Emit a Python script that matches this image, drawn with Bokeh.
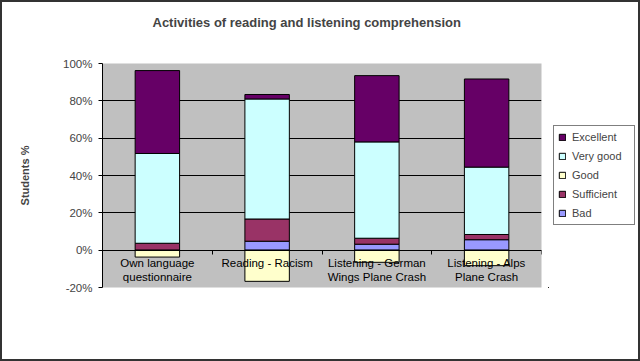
from bokeh.plotting import figure
from bokeh.layouts import row
from bokeh.models import ColumnDataSource, FixedTicker, Legend, LegendItem, Title
from bokeh.core.properties import value
from bokeh.embed import file_html
from bokeh.resources import INLINE

# ---- data (percent of students) ----
categories = ["Own language\nquestionnaire", "Reading - Racism",
              "Listening - German\nWings Plane Crash", "Listening - Alps\nPlane Crash"]
bad = [0.0, 4.8, 3.2, 5.6]
sufficient = [3.7, 11.9, 3.2, 2.8]
very_good = [48.1, 64.3, 51.6, 36.1]
excellent = [44.4, 2.4, 35.5, 47.2]
good = [3.7, 16.7, 6.5, 8.3]          # drawn below the zero line
y_ticks = [-20, 0, 20, 40, 60, 80, 100]
y_tick_labels = ["-20%", "0%", "20%", "40%", "60%", "80%", "100%"]
series_names = ["Excellent", "Very good", "Good", "Sufficient", "Bad"]
colors = {"Excellent": "#660066", "Very good": "#CCFFFF", "Good": "#FFFFCC",
          "Sufficient": "#993366", "Bad": "#9999FF"}
TITLE = "Activities of reading and listening comprehension"

n = len(categories)
xs = [i + 0.5 for i in range(n)]
c1 = [bad[i] for i in range(n)]
c2 = [c1[i] + sufficient[i] for i in range(n)]
c3 = [c2[i] + very_good[i] for i in range(n)]
c4 = [c3[i] + excellent[i] for i in range(n)]
src = ColumnDataSource(dict(
    x=xs, zero=[0.0] * n,
    c1=c1, c2=c2, c3=c3, c4=c4,
    gneg=[-g for g in good],
    label=categories,
))

FONT = "Liberation Sans"

p = figure(width=546, height=357, x_range=(0, 4), y_range=(-20, 100),
           output_backend="svg", toolbar_location=None,
           min_border_left=100, min_border_right=7, min_border_top=61, min_border_bottom=72,
           background_fill_color="#C0C0C0", border_fill_color="white",
           outline_line_color=None)

# spacer title (closest to the frame) then the real title above it
p.add_layout(Title(text=" ", text_font_size="2px", standoff=30), "above")
p.add_layout(Title(text=TITLE, text_font=FONT, text_font_size="13px",
                   text_font_style="bold", align="left", offset=50, standoff=0),
             "above")

w = 0.405


def bars(fig, w):
    r_bad = fig.vbar(x="x", bottom="zero", top="c1", width=w, source=src,
                     fill_color=colors["Bad"], line_color="black", line_width=1)
    r_suf = fig.vbar(x="x", bottom="c1", top="c2", width=w, source=src,
                     fill_color=colors["Sufficient"], line_color="black", line_width=1)
    r_vg = fig.vbar(x="x", bottom="c2", top="c3", width=w, source=src,
                    fill_color=colors["Very good"], line_color="black", line_width=1)
    r_exc = fig.vbar(x="x", bottom="c3", top="c4", width=w, source=src,
                     fill_color=colors["Excellent"], line_color="black", line_width=1)
    r_good = fig.vbar(x="x", bottom="gneg", top="zero", width=w, source=src,
                      fill_color=colors["Good"], line_color="black", line_width=1)
    return {"Excellent": r_exc, "Very good": r_vg, "Good": r_good,
            "Sufficient": r_suf, "Bad": r_bad}


bars(p, w)

# category labels just under the zero line
p.text(x="x", y="zero", text="label", source=src, text_align="center",
       text_baseline="top", y_offset=7, text_font=value(FONT),
       text_font_size="11.5px", text_color="black", text_line_height=1.15)

# axes
p.yaxis.ticker = FixedTicker(ticks=y_ticks)
p.yaxis.major_label_overrides = {t: l for t, l in zip(y_ticks, y_tick_labels)}
p.yaxis.major_label_text_font = FONT
p.yaxis.major_label_text_font_size = "11.5px"
p.yaxis.major_tick_out = 4
p.yaxis.major_tick_in = 0
p.yaxis.minor_tick_line_color = None
p.yaxis.major_label_standoff = 6
p.yaxis.axis_line_color = "black"
p.yaxis.axis_label = "Students %"
p.yaxis.axis_label_text_font = FONT
p.yaxis.axis_label_text_font_size = "11px"
p.yaxis.axis_label_text_font_style = "bold"
p.yaxis.axis_label_standoff = 29

p.xaxis.fixed_location = 0
p.xaxis.ticker = FixedTicker(ticks=[0, 1, 2, 3, 4])
p.xaxis.major_label_overrides = {t: " " for t in [0, 1, 2, 3, 4]}
p.xaxis.major_tick_out = 4
p.xaxis.major_tick_in = 0
p.xaxis.minor_tick_line_color = None
p.xaxis.axis_line_color = "black"

p.xgrid.grid_line_color = None
p.ygrid.ticker = FixedTicker(ticks=[0, 20, 40, 60, 80])
p.ygrid.grid_line_color = "black"
p.ygrid.grid_line_width = 1

# ---- legend panel: a second figure to the right ----
lg = figure(width=90, height=357, x_range=(100, 101), y_range=(100, 101),
            output_backend="svg", toolbar_location=None,
            x_axis_location=None, y_axis_location=None,
            min_border_left=0, min_border_right=0, min_border_top=0, min_border_bottom=0,
            background_fill_color="white", border_fill_color="white",
            outline_line_color=None)
lg.grid.visible = False
lr = bars(lg, w)
legend = Legend(items=[LegendItem(label=s, renderers=[lr[s]]) for s in series_names],
                location=(5, 62), margin=0, padding=4, spacing=5,
                glyph_width=8, glyph_height=8, label_standoff=6,
                label_width=58, label_height=14,
                label_text_font=FONT, label_text_font_size="11px",
                border_line_color="black", border_line_width=1,
                background_fill_color="white")
lg.add_layout(legend, "center")

layout = row(p, lg, spacing=0)
layout.styles = {"border": "2px solid #333333"}
open("out.html", "w").write(file_html(layout, INLINE))
